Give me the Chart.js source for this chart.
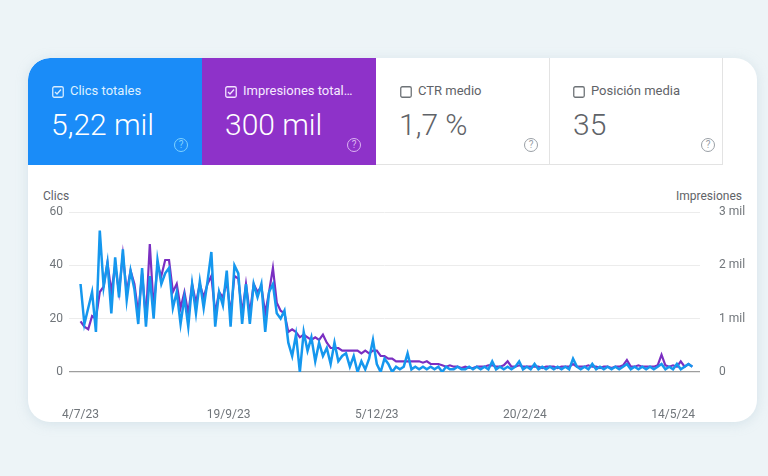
<!DOCTYPE html>
<html>
<head>
  <meta charset="utf-8">
  <title>Rendimiento en la Búsqueda</title>
  <script src="https://cdn.jsdelivr.net/npm/chart.js"></script>
  <style>
    body { margin: 0; width: 768px; height: 476px; overflow: hidden; background: #edf4f7; font-family: Roboto, "Noto Sans", sans-serif; }
    .panel { position: absolute; left: 28px; top: 58px; width: 729px; height: 364px; background: #fff; border-radius: 22px; box-shadow: 0 2px 12px rgba(170, 195, 210, 0.35); overflow: hidden; }
    .card { position: absolute; top: 0; height: 107px; box-sizing: border-box; }
    .card svg.check { position: absolute; left: 24px; top: 28px; }
    .card .label { position: absolute; left: 42px; top: 25px; font-size: 13px; line-height: 16px; white-space: nowrap; }
    .card .value { position: absolute; left: 23px; top: 52px; font-size: 30px; line-height: 30px; font-weight: 300; white-space: nowrap; }
    .card .help { position: absolute; top: 80px; width: 14px; height: 14px; border: 1.3px solid; border-radius: 50%; box-sizing: border-box; font-size: 10px; line-height: 12px; text-align: center; }
    .blue { left: 0; width: 174px; background: #1a8cf8; color: #fff; border-top-left-radius: 22px; }
    .purple { left: 174px; width: 174px; background: #8e32c9; color: #fff; }
    .ctr { left: 348px; width: 174px; color: #5f6368; border-bottom: 1px solid #e3e3e3; }
    .pos { left: 521px; width: 174px; color: #5f6368; border: 1px solid #e3e3e3; border-top: none; }
    .axis-title { position: absolute; top: 131px; font-size: 12px; line-height: 14px; color: #5f6368; }
    #chart { position: absolute; left: 0; top: 132px; }
  </style>
</head>
<body>
  <div class="panel">
    <div class="card blue">
      <svg class="check" width="12" height="12"><rect x="0.75" y="0.75" width="10.5" height="10.5" rx="1.5" fill="none" stroke="#d6ecff" stroke-width="1.3"/><polyline points="3,6 5,8 9,3.5" fill="none" stroke="#d6ecff" stroke-width="1.3"/></svg>
      <div class="label" style="color:#dff0ff">Clics totales</div>
      <div class="value">5,22 mil</div>
      <div class="help" style="left:146px; color:#7fd2ff">?</div>
    </div>
    <div class="card purple">
      <svg class="check" width="12" height="12" style="left:23px"><rect x="0.75" y="0.75" width="10.5" height="10.5" rx="1.5" fill="none" stroke="#f3e2ff" stroke-width="1.3"/><polyline points="3,6 5,8 9,3.5" fill="none" stroke="#f3e2ff" stroke-width="1.3"/></svg>
      <div class="label" style="left:41px; color:#f6eaff">Impresiones total…</div>
      <div class="value">300 mil</div>
      <div class="help" style="left:145px; color:#dcb4f2">?</div>
    </div>
    <div class="card ctr">
      <svg class="check" width="12" height="12"><rect x="0.75" y="0.75" width="10.5" height="10.5" rx="1.5" fill="none" stroke="#6e7377" stroke-width="1.3"/></svg>
      <div class="label">CTR medio</div>
      <div class="value">1,7 %</div>
      <div class="help" style="left:148px; color:#9aa0a6">?</div>
    </div>
    <div class="card pos">
      <svg class="check" width="12" height="12" style="left:23px"><rect x="0.75" y="0.75" width="10.5" height="10.5" rx="1.5" fill="none" stroke="#6e7377" stroke-width="1.3"/></svg>
      <div class="label" style="left:41px">Posición media</div>
      <div class="value">35</div>
      <div class="help" style="left:151px; color:#9aa0a6">?</div>
    </div>

    <div class="axis-title" style="left:15px">Clics</div>
    <div class="axis-title" style="right:15px">Impresiones</div>
    <canvas id="chart" width="729" height="232"></canvas>
  </div>

  <script>
    // one value every 2 days, starting 4/7/23
    const dayStep = 2;
    const clicks = [
      33, 18, 24, 30, 15, 53, 32, 41, 22, 43,
      28, 46, 27, 38, 31, 18, 39, 17, 36, 20,
      42, 33, 37, 39, 24, 30, 18, 28, 17, 33,
      22, 34, 24, 34, 45, 17, 30, 25, 38, 17,
      40, 37, 18, 33, 18, 33, 28, 33, 15, 30,
      33, 22, 20, 23, 11, 6, 14, 0, 15, 8,
      13, 4, 11, 6, 9, 3, 11, 4, 6, 7,
      2, 6, 0, 4, 1, 5, 12, 3, 0, 5,
      3, 0, 2, 1, 2, 7, 1, 2, 1, 2,
      1, 2, 1, 2, 0, 2, 1, 1, 2, 1,
      1, 2, 1, 2, 1, 2, 1, 4, 1, 2,
      1, 2, 1, 2, 4, 1, 2, 1, 3, 1,
      2, 1, 2, 1, 2, 1, 2, 1, 5, 2,
      1, 2, 1, 3, 1, 2, 1, 2, 1, 2,
      1, 2, 3, 1, 2, 1, 2, 1, 2, 1,
      2, 3, 1, 2, 1, 3, 1, 2, 3, 2
    ];
    const impressions = [
      950, 850, 800, 1050, 1000, 1500, 1600, 2050, 1500, 2000,
      1500, 2200, 1500, 1900, 1650, 1100, 1850, 1000, 2400, 1200,
      2000, 1800, 2100, 2100, 1500, 1650, 1200, 1500, 1100, 1650,
      1300, 1650, 1400, 1650, 1800, 1100, 1500, 1400, 1700, 1100,
      1800, 1750, 1100, 1650, 1100, 1650, 1500, 1600, 1100, 1500,
      1950, 1300, 1150, 1100, 750, 800, 750, 650, 700, 650,
      600, 650, 600, 700, 550, 450, 450, 450, 400, 400,
      400, 400, 400, 350, 400, 350, 400, 400, 300, 300,
      250, 250, 200, 200, 200, 200, 200, 200, 200, 175,
      200, 150, 150, 150, 125, 100, 125, 100, 100, 75,
      100, 75, 75, 100, 100, 100, 125, 125, 100, 100,
      125, 200, 100, 100, 125, 100, 100, 100, 100, 100,
      75, 100, 100, 100, 75, 100, 100, 100, 150, 100,
      100, 100, 125, 100, 100, 75, 100, 100, 75, 100,
      100, 125, 225, 100, 100, 125, 100, 100, 100, 100,
      125, 325, 125, 100, 125, 100, 200, 100, 150, 100
    ];
    const tickDays = [0, 77, 154, 231, 308];
    const tickLabels = ['4/7/23', '19/9/23', '5/12/23', '20/2/24', '14/5/24'];

    const tickColor = '#70757a';
    const tickFont = { family: 'Roboto', size: 12 };

    new Chart(document.getElementById('chart'), {
      type: 'line',
      data: {
        datasets: [{
          label: 'Clics',
          data: clicks.map((v, i) => ({ x: i * dayStep, y: v })),
          borderColor: '#1597ee',
          borderWidth: 2.5,
          pointRadius: 0,
          tension: 0,
          yAxisID: 'y'
        }, {
          label: 'Impresiones',
          data: impressions.map((v, i) => ({ x: i * dayStep, y: v })),
          borderColor: '#7b2fc2',
          borderWidth: 2.2,
          pointRadius: 0,
          tension: 0,
          yAxisID: 'y1'
        }]
      },
      options: {
        responsive: false,
        animation: false,
        layout: { padding: { top: 22, left: 0, right: 0, bottom: 0 } },
        plugins: { legend: { display: false }, tooltip: { enabled: false } },
        scales: {
          x: {
            type: 'linear',
            min: -6,
            max: 322,
            grid: { display: false },
            border: { display: false },
            afterBuildTicks: s => { s.ticks = tickDays.map(v => ({ value: v })); },
            afterFit: s => { s.height = 50; },
            ticks: {
              padding: 28, maxRotation: 0, autoSkip: false, color: tickColor, font: tickFont,
              callback: v => tickLabels[tickDays.indexOf(v)]
            }
          },
          y: {
            position: 'left',
            min: 0,
            max: 60,
            afterFit: s => { s.width = 41; },
            ticks: { stepSize: 20, padding: 6, color: tickColor, font: tickFont },
            grid: {
              drawTicks: false,
              color: c => c.tick.value === 0 ? '#9e9e9e' : '#ececec',
              lineWidth: c => c.tick.value === 0 ? 1.3 : 1
            },
            border: { display: false }
          },
          y1: {
            position: 'right',
            min: 0,
            max: 3000,
            afterFit: s => { s.width = 57; },
            ticks: {
              stepSize: 1000, padding: 11, color: tickColor, font: tickFont,
              callback: v => v === 0 ? '0' : (v / 1000) + ' mil'
            },
            grid: { display: false },
            border: { display: false }
          }
        }
      }
    });
  </script>
</body>
</html>
